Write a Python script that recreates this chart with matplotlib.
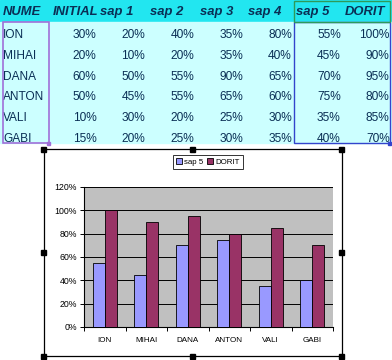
import numpy as np
import matplotlib.pyplot as plt
from matplotlib.patches import Rectangle

plt.rcParams['font.family'] = ['Liberation Sans', 'DejaVu Sans']

# table data
headers = ['NUME', 'INITIAL', 'sap 1', 'sap 2', 'sap 3', 'sap 4', 'sap 5', 'DORIT']
names = ['ION', 'MIHAI', 'DANA', 'ANTON', 'VALI', 'GABI']
initial = [30, 20, 60, 50, 10, 15]
sap1 = [20, 10, 50, 45, 30, 20]
sap2 = [40, 20, 55, 55, 20, 25]
sap3 = [35, 35, 90, 65, 25, 30]
sap4 = [80, 40, 65, 60, 30, 35]
sap5 = [55, 45, 70, 75, 35, 40]
dorit = [100, 90, 95, 80, 85, 70]

W, H = 392, 360
fig = plt.figure(figsize=(W / 100, H / 100), dpi=100)

# background axes in pixel coords for the spreadsheet part
bg = fig.add_axes([0, 0, 1, 1])
bg.set_xlim(0, W)
bg.set_ylim(H, 0)
bg.axis('off')

col_w = 48.9
head_h = 22
row_top = 22
table_bottom = 143
bg.add_patch(Rectangle((0, 0), W, head_h, color='#22E6F0', zorder=0))
bg.add_patch(Rectangle((0, row_top), W, table_bottom - row_top, color='#CCFFFF', zorder=0))

txt_col = '#0A2F55'
head_x = [3, 53, 100, 150, 200, 248, 296, 345]
for x, h in zip(head_x, headers):
    bg.text(x, 12, h, fontsize=9.4, fontweight='bold', fontstyle='italic',
            color=txt_col, ha='left', va='center')

columns = [initial, sap1, sap2, sap3, sap4, sap5, dorit]
for i, n in enumerate(names):
    y = 35 + 20.8 * i
    bg.text(3, y, n, fontsize=8.6, color=txt_col, ha='left', va='center')
    for j, col in enumerate(columns):
        xr = col_w * (j + 2) - 1.5
        bg.text(xr, y, f'{col[i]}%', fontsize=8.6, color=txt_col, ha='right', va='center')

# selection boxes
bg.add_patch(Rectangle((3, row_top), 46, table_bottom - row_top, fill=False,
                       ec='#A070D8', lw=1.2, zorder=3))
bg.add_patch(Rectangle((47.5, table_bottom - 1.5), 3, 3, color='#A070D8', zorder=4))
bg.add_patch(Rectangle((294, row_top), 96, table_bottom - row_top, fill=False,
                       ec='#3344CC', lw=1.0, zorder=3))
bg.add_patch(Rectangle((388.5, table_bottom - 1.5), 3, 3, color='#3344CC', zorder=4))
bg.add_patch(Rectangle((294, 0.5), 96, head_h - 1, fill=False,
                       ec='#2E9A5A', lw=1.0, zorder=3))

# chart area
cx0, cy0, cx1, cy1 = 44, 149, 342, 356
bg.add_patch(Rectangle((cx0, cy0), cx1 - cx0, cy1 - cy0, fc='white', ec='black',
                       lw=0.9, zorder=1))
for hx, hy in [(cx0, cy0), ((cx0 + cx1) / 2, cy0), (cx1, cy0), (cx0, (cy0 + cy1) / 2),
               (cx1, (cy0 + cy1) / 2), (cx0, cy1), ((cx0 + cx1) / 2, cy1), (cx1, cy1)]:
    bg.add_patch(Rectangle((hx - 2.5, hy - 2.5), 5, 5, color='black', zorder=5))

# plot area
px0, px1, py0, py1 = 84, 333, 187, 327
ax = fig.add_axes([px0 / W, (H - py1) / H, (px1 - px0) / W, (py1 - py0) / H])
ax.set_facecolor('#C0C0C0')
x = np.arange(len(names))
bw = 0.29
ax.bar(x - bw / 2, np.array(sap5) / 100, bw, color='#9999FF', ec='black', lw=0.6,
       label='sap 5', zorder=3)
ax.bar(x + bw / 2, np.array(dorit) / 100, bw, color='#993366', ec='black', lw=0.6,
       label='DORIT', zorder=3)
ax.set_xlim(-0.5, len(names) - 0.5)
ax.set_ylim(0, 1.2)
yt = np.arange(0, 1.21, 0.2)
ax.set_yticks(yt)
ax.set_yticklabels([f'{int(round(v * 100))}%' for v in yt], fontsize=6.3)
ax.grid(axis='y', color='black', lw=0.7, zorder=1)
ax.set_xticks(x)
ax.set_xticklabels(names, fontsize=5.8)
ax.set_xticks(np.arange(-0.5, len(names)), minor=True)
ax.tick_params(axis='x', which='major', length=0, pad=7)
ax.tick_params(axis='x', which='minor', length=3, width=0.7)
ax.tick_params(axis='y', length=3, width=0.7, pad=2)
for s in ['top', 'right']:
    ax.spines[s].set_visible(False)
ax.spines['left'].set_linewidth(0.8)
ax.spines['bottom'].set_linewidth(0.8)

leg = ax.legend(loc='center', bbox_to_anchor=(208 / W, 1 - 162 / H),
                bbox_transform=fig.transFigure, ncol=2, fontsize=5.7,
                frameon=True, fancybox=False, edgecolor='black', handlelength=0.7,
                handleheight=0.7, handletextpad=0.3, columnspacing=0.5,
                borderpad=0.4, borderaxespad=0)
leg.get_frame().set_linewidth(0.7)

fig.savefig('out.png', dpi=100)
